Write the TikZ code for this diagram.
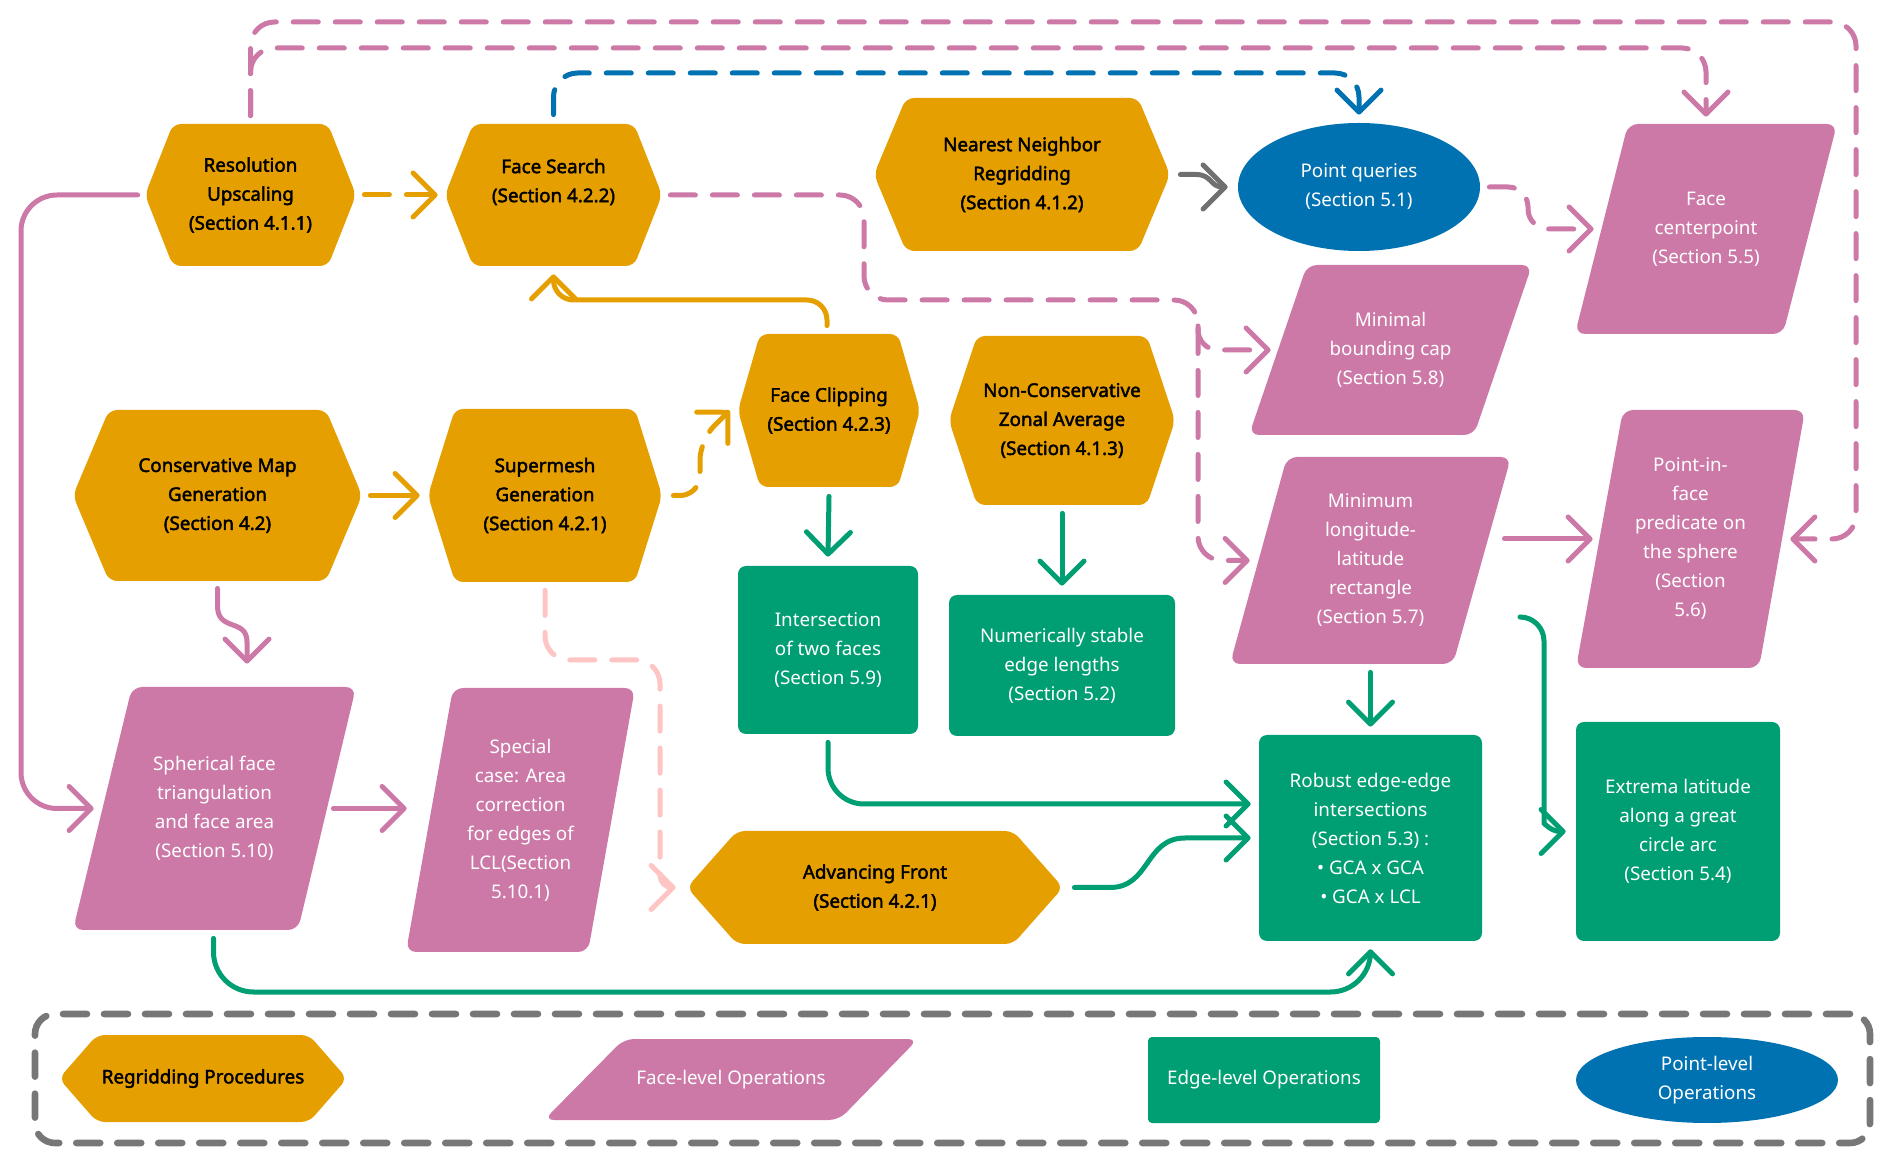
\documentclass[tikz,border=0pt]{standalone}
\usepackage{fontspec}
\setmainfont{Noto Sans}[AutoFakeBold=2.2]
\usetikzlibrary{arrows.meta,calc,shapes.geometric}
\definecolor{orangeC}{HTML}{E69F00}
\definecolor{pinkC}{HTML}{CC79A7}
\definecolor{greenC}{HTML}{009E73}
\definecolor{blueC}{HTML}{0072B2}
\definecolor{grayC}{HTML}{707070}
\definecolor{lpinkC}{HTML}{FFC4C4}
\definecolor{legC}{HTML}{777777}
\tikzset{
 boxtext/.style={inner sep=0pt, align=center, font=\fontsize{9.4}{14.5}\selectfont},
 orangetext/.style={boxtext, text=black, font=\fontsize{9.4}{14.5}\selectfont\bfseries},
 whitetext/.style={boxtext, text=white},
 greenbox/.style={whitetext, rectangle, fill=greenC, rounded corners=4pt},
 bluebox/.style={whitetext, ellipse, fill=blueC},
 conn/.style={line width=2.5pt, line cap=round, line join=round, -{Straight Barb[length=11pt,width=22pt,round]}},
 dashedconn/.style={conn, dash pattern=on 12.5pt off 8.5pt},
}
% name, xl, xr, yt, yb, inset, text
\newcommand\hexnode[7]{%
 \fill[orangeC, rounded corners=4pt] (#2,{(#4+#5)/2}) -- ({#2+#6},#4) -- ({#3-#6},#4) -- (#3,{(#4+#5)/2}) -- ({#3-#6},#5) -- ({#2+#6},#5) -- cycle;
 \node[orangetext, minimum width={(#3-#2)*0.5pt}, minimum height={(#5-#4)*0.5pt}] (#1) at ({(#2+#3)/2},{(#4+#5)/2}) {#7};}
% name, topleft, topright, botleft, botright, yt, yb, text
\newcommand\paranode[8]{%
 \fill[pinkC, rounded corners=5pt] (#2,#6) -- (#3,#6) -- (#5,#7) -- (#4,#7) -- cycle;
 \node[whitetext, minimum width={(#3-#4)*0.5pt}, minimum height={(#7-#6)*0.5pt}] (#1) at ({(#3+#4)/2},{(#6+#7)/2}) {#8};}
\begin{document}
\begin{tikzpicture}[x=0.5pt,y=-0.5pt]
\fill[white] (0,0) rectangle (1892,1165);
\useasboundingbox (0,0) rectangle (1892,1165);

% Regridding procedures
\hexnode{res}{145}{356}{124}{266}{28}{Resolution\\Upscaling\\(Section 4.1.1)}
\hexnode{fs}{445}{662}{124}{266}{28}{Face Search\\(Section 4.2.2)\\\mbox{}}
\hexnode{nn}{874}{1170}{98}{251}{32}{Nearest Neighbor\\Regridding\\(Section 4.1.2)}
\hexnode{fc}{738}{920}{334}{487}{22}{Face Clipping\\(Section 4.2.3)}
\hexnode{nc}{949}{1175}{336}{505}{28}{Non-Conservative\\Zonal Average\\(Section 4.1.3)}
\hexnode{cm}{73}{362}{410}{581}{36}{Conservative Map\\Generation\\(Section 4.2)}
\hexnode{sm}{428}{662}{409}{582}{27}{Supermesh\\Generation\\(Section 4.2.1)}
\hexnode{af}{687}{1063}{831}{944}{50}{Advancing Front\\(Section 4.2.1)}

% Face-level operations
\paranode{fcp}{1628}{1837}{1575}{1783}{124}{334}{Face\\centerpoint\\(Section 5.5)}
\paranode{mbc}{1307}{1532}{1249}{1474}{265}{435}{Minimal\\bounding cap\\(Section 5.8)}
\paranode{mlr}{1287}{1511}{1230}{1453}{457}{664}{Minimum\\longitude-\\latitude\\rectangle\\(Section 5.7)}
\paranode{pif}{1623}{1805}{1576}{1759}{410}{668}{Point-in-\\face\\predicate on\\the sphere\\(Section\\5.6)}
\paranode{sft}{132}{356}{73}{298}{687}{930}{Spherical face\\triangulation\\and face area\\(Section 5.10)}
\paranode{spc}{453}{635}{406}{588}{688}{952}{Special\\case: Area\\correction\\for edges of\\LCL(Section\\5.10.1)}

% Edge-level operations
\node[greenbox, minimum width=90pt, minimum height=84pt] (itf) at (828,650) {Intersection\\of two faces\\(Section 5.9)};
\node[greenbox, minimum width=113pt, minimum height=70.5pt] (nse) at (1062,665.5) {Numerically stable\\edge lengths\\(Section 5.2)};
\node[greenbox, minimum width=111.5pt, minimum height=103pt] (rob) at (1370.5,838) {Robust edge-edge\\intersections\\(Section 5.3) :\\• GCA x GCA\\• GCA x LCL};
\node[greenbox, minimum width=102pt, minimum height=109.5pt] (ext) at (1678,831.5) {Extrema latitude\\along a great\\circle arc\\(Section 5.4)};

% Point-level
\node[bluebox, minimum width=121pt, minimum height=64pt] (pq) at (1359,187) {Point queries\\(Section 5.1)};

% Connectors
\draw[dashedconn, pinkC, rounded corners=12pt] ($(res.north)+(0,-8)$) |- (1706,48) -- ($(fcp.north)+(0,-7)$);
\draw[dashedconn, pinkC, rounded corners=12pt] ($(res.north)+(0,-8)$) |- (1856,22) |- ($(pif.east)+(-15,0)$);
\draw[dashedconn, blueC, rounded corners=12pt] ($(fs.north)+(0,-9)$) |- (1359,73) -- ($(pq.north)+(0,-8)$);
\draw[dashedconn, orangeC] ($(res.east)+(8,0)$) -- ($(fs.west)+(-7,0)$);
\draw[conn, pinkC, rounded corners=18pt] ($(res.west)+(-7,0)$) -| (21,808.5) -- ($(sft.west)+(21,0)$);
\draw[dashedconn, pinkC, rounded corners=12pt] ($(fs.east)+(8,0)$) -| (864,300) -| (1198,420) |- ($(mlr.west)+(20,0)$);
\draw[dashedconn, pinkC, rounded corners=10pt] (1198,326) |- ($(mbc.west)+(22,0)$);
\draw[conn, orangeC, rounded corners=10pt] ($(fc.north)+(-2,-8)$) |- (553.5,300) -- ($(fs.south)+(0,8)$);
\draw[conn, orangeC] ($(cm.east)+(8,0)$) -- ($(sm.west)+(-8,0)$);
\draw[dashedconn, orangeC, rounded corners=10pt] ($(sm.east)+(11,0)$) -| (700,440) -- ($(fc.west)+(-8,0)$);
\draw[conn, pinkC] ($(cm.south)+(0,7)$) -- (217.5,606) .. controls (217.5,632) and (247,618) .. (247,642) -- ($(sft.north)+(32.5,-23)$);
\draw[dashedconn, lpinkC, rounded corners=12pt] ($(sm.south)+(0,8)$) |- (660,660) [rounded corners=6pt] |- ($(af.west)+(-11,0)$);
\draw[conn, greenC] ($(fc.south)+(0,9)$) -- ($(itf.north)+(0,-9)$);
\draw[conn, greenC] ($(nc.south)+(0,8)$) -- ($(nse.north)+(0,-9)$);
\draw[conn, greenC, rounded corners=18pt] ($(itf.south)+(0,8)$) |- ($(rob.west)+(-8,-34)$);
\draw[conn, greenC] ($(af.east)+(11,0)$) -- (1110,887.5) .. controls (1150,887.5) and (1145,838) .. (1185,838) -- ($(rob.west)+(-8,0)$);
\draw[conn, greenC, rounded corners=20pt] ($(sft.south)+(-1,8)$) |- (1370.5,992) -- ($(rob.south)+(0,8)$);
\draw[conn, pinkC] ($(sft.east)+(-23,0)$) -- ($(spc.west)+(1,-11.5)$);
\draw[conn, grayC] ($(nn.east)+(10,0)$) -- (1196,174.5) .. controls (1212,174.5) and (1210,187) .. ($(pq.west)+(-10,0)$);
\draw[dashedconn, pinkC, rounded corners=10pt] ($(pq.east)+(9,0)$) -| (1528,229) -- ($(fcp.west)+(19,0)$);
\draw[conn, pinkC] ($(mlr.east)+(-7,-21.5)$) -- ($(pif.west)+(17,0)$);
\draw[conn, greenC] ($(mlr.south)+(0,8)$) -- ($(rob.north)+(0,-8)$);
\draw[conn, greenC, rounded corners=12pt] ($(mlr.east)+(9,56.5)$) -| (1544,800) [sharp corners] .. controls (1544,822) and (1550,831.5) .. ($(ext.west)+(-10,0)$);

% Legend
\node[draw=legC, line width=3.3pt, line cap=round, dash pattern=on 12pt off 8.5pt, rounded corners=10pt, minimum width=917.5pt, minimum height=64.5pt, inner sep=0] (legend) at (952.5,1078.5) {};
\hexnode{lega}{59}{347}{1035}{1122}{38}{Regridding Procedures}
\paranode{legb}{624}{918}{544}{839}{1039}{1120}{Face-level Operations}
\node[greenbox, rounded corners=2pt, minimum width=116pt, minimum height=43pt] (legc) at (1264,1080) {Edge-level Operations};
\node[bluebox, minimum width=131pt, minimum height=43pt] (legd) at (1707,1080) {Point-level\\Operations};
\end{tikzpicture}
\end{document}
